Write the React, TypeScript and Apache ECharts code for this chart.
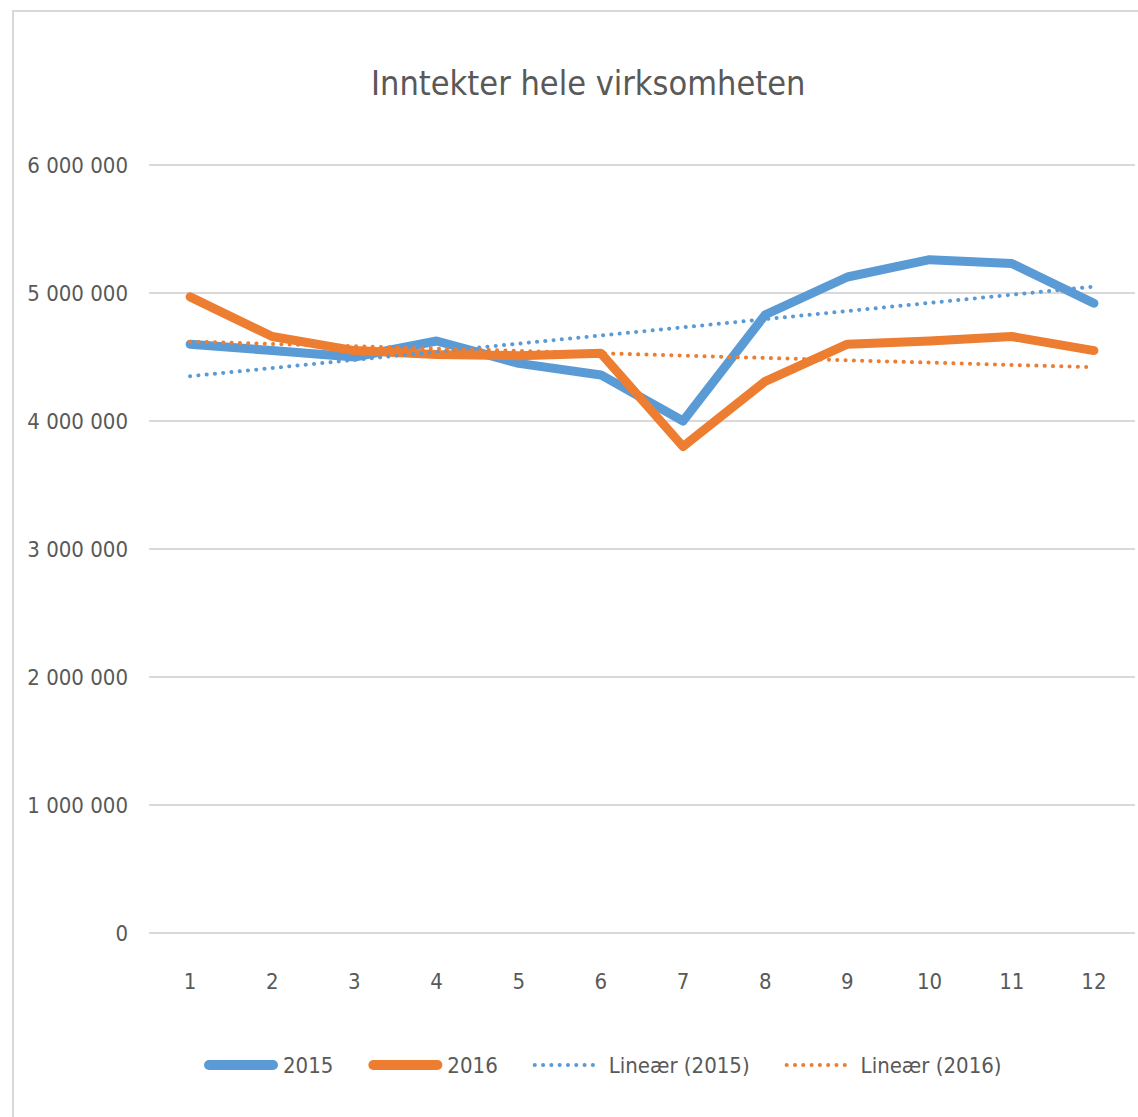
import React, { useEffect, useRef } from "react";
import * as echarts from "echarts";

const months = ["1", "2", "3", "4", "5", "6", "7", "8", "9", "10", "11", "12"];
const values2015 = [4600000, 4550000, 4500000, 4625000, 4450000, 4360000, 4000000, 4830000, 5125000, 5260000, 5230000, 4920000];
const values2016 = [4970000, 4660000, 4550000, 4520000, 4510000, 4530000, 3800000, 4310000, 4600000, 4625000, 4660000, 4550000];
// Trend line end values (month 1 and month 12)
const trend2015Ends = [4350000, 5050000];
const trend2016Ends = [4620000, 4420000];
const yTicks = { min: 0, max: 6000000, interval: 1000000 };

const FONT = "'DejaVu Sans Condensed', 'Liberation Sans Narrow', sans-serif";
const TEXT = "#595959";
const BLUE = "#5B9BD5";
const ORANGE = "#ED7D31";
const FS = 22;

function endsToSeries(ends: number[]) {
  return months.map((_, i) => (i === 0 ? ends[0] : i === months.length - 1 ? ends[1] : null));
}

function fmt(v: number) {
  return String(Math.round(v)).replace(/\B(?=(\d{3})+(?!\d))/g, " ");
}

export default function App() {
  const ref = useRef<HTMLDivElement>(null);
  useEffect(() => {
    if (!ref.current) return;
    const chart = echarts.init(ref.current, null, { renderer: "svg" });
    const dotted = (color: string) => ({
      color,
      width: 4,
      type: [0.1, 8.2] as any,
      cap: "round" as const,
    });
    chart.setOption({
      animation: false,
      backgroundColor: "#fff",
      title: {
        text: "Inntekter hele virksomheten",
        left: 366,
        top: 61,
        textStyle: { fontFamily: FONT, fontSize: 34, fontWeight: "normal", color: TEXT },
      },
      graphic: [
        {
          type: "rect",
          shape: { x: 13, y: 11, width: 1140, height: 1120 },
          style: { fill: "none", stroke: "#D9D9D9", lineWidth: 2 },
          silent: true,
        },
      ],
      grid: { left: 149, right: 3, top: 165, bottom: 184, containLabel: false },
      legend: {
        left: 204,
        top: 1054,
        padding: 0,
        itemWidth: 64,
        itemHeight: 12,
        itemGap: 35,
        itemStyle: { opacity: 0 },
        textStyle: { fontFamily: FONT, fontSize: FS, color: TEXT, padding: [0, 0, 0, 5] },
        data: [
          { name: "2015", lineStyle: { width: 10, cap: "round" } },
          { name: "2016", lineStyle: { width: 10, cap: "round" } },
          { name: "Lineær (2015)", lineStyle: { width: 4, cap: "round" } },
          { name: "Lineær (2016)", lineStyle: { width: 4, cap: "round" } },
        ],
      },
      xAxis: {
        type: "category",
        data: months,
        boundaryGap: true,
        axisLine: { show: false },
        axisTick: { show: false },
        axisLabel: { fontFamily: FONT, fontSize: FS, color: TEXT, margin: 37 },
      },
      yAxis: {
        type: "value",
        min: yTicks.min,
        max: yTicks.max,
        interval: yTicks.interval,
        axisLine: { show: false },
        axisTick: { show: false },
        splitLine: { lineStyle: { color: "#D9D9D9", width: 2 } },
        axisLabel: { fontFamily: FONT, fontSize: FS, color: TEXT, margin: 21, formatter: (v: number) => fmt(v) },
      },
      series: [
        {
          name: "2015",
          type: "line",
          data: values2015,
          symbol: "none",
          color: BLUE,
          lineStyle: { color: BLUE, width: 9, cap: "round", join: "round" },
          z: 3,
        },
        {
          name: "2016",
          type: "line",
          data: values2016,
          symbol: "none",
          color: ORANGE,
          lineStyle: { color: ORANGE, width: 9, cap: "round", join: "round" },
          z: 3,
        },
        {
          name: "Lineær (2015)",
          type: "line",
          data: endsToSeries(trend2015Ends),
          connectNulls: true,
          symbol: "none",
          color: BLUE,
          lineStyle: dotted(BLUE),
          z: 4,
        },
        {
          name: "Lineær (2016)",
          type: "line",
          data: endsToSeries(trend2016Ends),
          connectNulls: true,
          symbol: "none",
          color: ORANGE,
          lineStyle: dotted(ORANGE),
          z: 4,
        },
      ],
    });
    return () => chart.dispose();
  }, []);
  return <div ref={ref} style={{ position: "fixed", left: 0, top: 0, width: 1138, height: 1117 }} />;
}
